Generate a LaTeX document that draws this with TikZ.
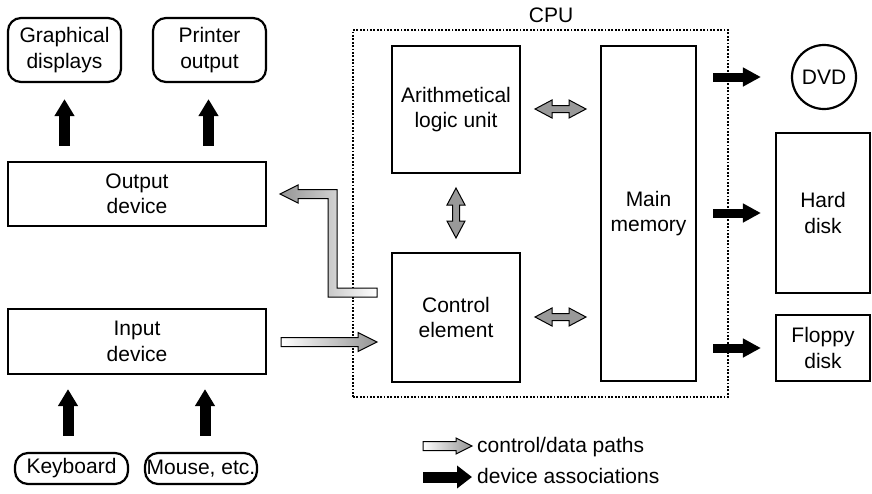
\documentclass[tikz,border=0pt]{standalone}
\usepackage{fontspec}
\setmainfont{Liberation Sans}
\usetikzlibrary{arrows.meta,calc}

% Single-headed block arrow: [style]{tail}{tip}{shaft half-width}{head half-width}{head length}
\newcommand\blockarrow[6][]{%
  \path[#1] let \p1=(#2), \p2=(#3), \n1={atan2(\y2-\y1,\x2-\x1)} in
    ($(\p1)+(\n1+90:#4)$)
    -- ($(\p2)+(\n1+180:#6)+(\n1+90:#4)$)
    -- ($(\p2)+(\n1+180:#6)+(\n1+90:#5)$)
    -- (\p2)
    -- ($(\p2)+(\n1+180:#6)+(\n1-90:#5)$)
    -- ($(\p2)+(\n1+180:#6)+(\n1-90:#4)$)
    -- ($(\p1)+(\n1-90:#4)$) -- cycle;}

% Double-headed block arrow between two points
\newcommand\dblockarrow[6][]{%
  \path[#1] let \p1=(#2), \p2=(#3), \n1={atan2(\y2-\y1,\x2-\x1)} in
    (\p1)
    -- ($(\p1)+(\n1:#6)+(\n1+90:#5)$)
    -- ($(\p1)+(\n1:#6)+(\n1+90:#4)$)
    -- ($(\p2)+(\n1+180:#6)+(\n1+90:#4)$)
    -- ($(\p2)+(\n1+180:#6)+(\n1+90:#5)$)
    -- (\p2)
    -- ($(\p2)+(\n1+180:#6)+(\n1-90:#5)$)
    -- ($(\p2)+(\n1+180:#6)+(\n1-90:#4)$)
    -- ($(\p1)+(\n1:#6)+(\n1-90:#4)$)
    -- ($(\p1)+(\n1:#6)+(\n1-90:#5)$) -- cycle;}

\tikzset{
  every node/.style={font=\fontsize{21}{25.5}\selectfont, align=center, inner sep=0pt},
  box/.style={draw, line width=2.2pt},
  rbox/.style={box, rounded corners=13pt},
  cpubox/.style={draw, line width=2.2pt, dash pattern=on 1.8pt off 1.6pt},
  blk/.style={line width=9pt, -{Triangle[length=18pt,width=18pt]}},
  blkup/.style={line width=11pt, -{Triangle[length=17pt,width=19pt]}},
  blkleg/.style={line width=11pt, -{Triangle[length=15pt,width=22pt]}},
  flowr/.style={draw, line width=1pt, left color=white, right color=black!42},
  flowl/.style={draw, line width=1pt, left color=black!42, right color=white},
  flowd/.style={draw, line width=1pt, left color=black!40, middle color=white, right color=black!40},
}

\begin{document}
\begin{tikzpicture}[x=1pt, y=-1pt]
  \useasboundingbox (0,0) rectangle (872,493);

  % peripheral boxes on the left
  \node[rbox, minimum width=113pt, minimum height=64pt] (gd) at (64.5,50) {Graphical\\displays};
  \node[rbox, minimum width=113pt, minimum height=64pt] (po) at (209.5,50) {Printer\\output};
  \node[box, minimum width=258pt, minimum height=64pt] (out) at (137,194) {Output\\device};
  \node[box, minimum width=258pt, minimum height=65pt] (inp) at (137,341.5) {Input\\device};
  \node[rbox, minimum width=113pt, minimum height=31pt] (kb) at (71.5,468.5) {Keyboard};
  \node[rbox, minimum width=112pt, minimum height=31pt] (ms) at (201,468.5) {Mouse, etc.};

  % CPU and its parts
  \node[cpubox, minimum width=375pt, minimum height=367pt] (cpu) at (540.5,213.5) {};
  \node (cpulbl) at (551,15.5) {CPU};
  \node[box, minimum width=128pt, minimum height=127pt] (alu) at (456,109.5) {Arithmetical\\logic unit};
  \node[box, minimum width=128pt, minimum height=129pt] (ctl) at (456,317.5) {Control\\element};
  \node[box, minimum width=95pt, minimum height=335pt] (mem) at (648.5,213.5) {Main\\memory};

  % storage devices
  \node[box, circle, minimum size=64pt] (dvd) at (824,77) {DVD};
  \node[box, minimum width=94pt, minimum height=160pt] (hd) at (823,213) {Hard\\disk};
  \node[box, minimum width=94pt, minimum height=66pt] (fd) at (823,348) {Floppy\\disk};

  % device associations
  \draw[blkup] ([yshift=15pt]out.north -| gd.south) -- ([yshift=-16pt]gd.south);
  \draw[blkup] ([yshift=15pt,xshift=-1pt]out.north -| po.south) -- ([yshift=-16pt,xshift=-1pt]po.south);
  \draw[blkup] ([yshift=16pt,xshift=-3.5pt]kb.north) -- ([yshift=-14pt,xshift=-3.5pt]inp.south -| kb.north);
  \draw[blkup] ([yshift=16pt,xshift=4pt]ms.north) -- ([yshift=-14pt,xshift=4pt]inp.south -| ms.north);
  \draw[blk] ([xshift=16pt]mem.east |- dvd.west) -- ([xshift=-30pt]dvd.west);
  \draw[blk] ([xshift=16pt]mem.east |- hd.west) -- ([xshift=-14pt]hd.west);
  \draw[blk] ([xshift=16pt]mem.east |- fd.west) -- ([xshift=-14pt]fd.west);

  % control/data paths
  \coordinate (inA) at (281,342);
  \coordinate (inB) at (377,342);
  \blockarrow[flowr]{inA}{inB}{4.5pt}{9.5pt}{19pt}

  \dblockarrow[flowd]{535,109}{586,109}{3.5pt}{9pt}{17pt}
  \dblockarrow[flowd]{535,317}{586,317}{3.5pt}{9pt}{17pt}
  \dblockarrow[flowd]{456,188}{456,238}{3.5pt}{9pt}{17pt}

  % path from the control element back to the output device
  \coordinate (Ls) at (377,292.5);
  \coordinate (Lc1) at (332.5,292.5);
  \coordinate (Lc2) at (332.5,194);
  \coordinate (Lt) at (280,194);
  \path[flowl] ([yshift=4.5pt]Ls) -- ([shift={(4.5pt,4.5pt)}]Lc1) -- ([shift={(4.5pt,4.5pt)}]Lc2)
    -- ([shift={(18pt,4.5pt)}]Lt) -- ([shift={(18pt,9pt)}]Lt) -- (Lt)
    -- ([shift={(18pt,-9pt)}]Lt) -- ([shift={(18pt,-4.5pt)}]Lt)
    -- ([shift={(-4.5pt,-4.5pt)}]Lc2) -- ([shift={(-4.5pt,-4.5pt)}]Lc1)
    -- ([yshift=-4.5pt]Ls) -- cycle;

  % legend
  \coordinate (lg1a) at (423,446);
  \coordinate (lg1b) at (472,446);
  \coordinate (lg2a) at (423,477);
  \coordinate (lg2b) at (472,477);
  \blockarrow[flowr]{lg1a}{lg1b}{4.5pt}{8pt}{16pt}
  \draw[blkleg] (lg2a) -- (lg2b);
  \node[anchor=base west] (lgt1) at (477,452) {control/data paths};
  \node[anchor=base west] (lgt2) at (477,483) {device associations};
\end{tikzpicture}
\end{document}
